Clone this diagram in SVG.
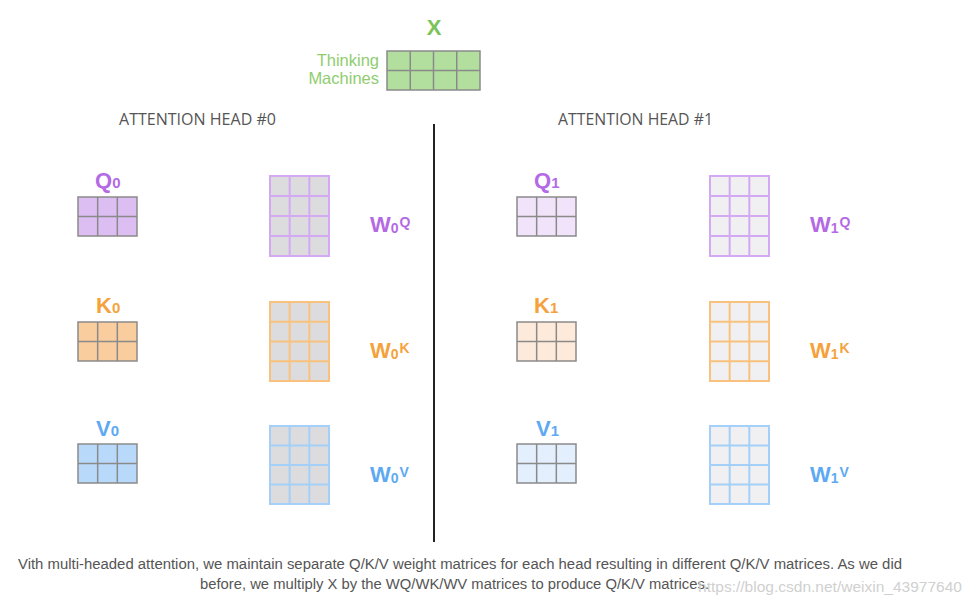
<svg xmlns="http://www.w3.org/2000/svg" xmlns:xlink="http://www.w3.org/1999/xlink" width="978" height="608" viewBox="0 0 978 608">
<style>
.lab{font-family:"Liberation Sans",Arial,sans-serif;font-weight:bold}
.hdr{font-family:"Open Sans","Liberation Sans",sans-serif;font-size:15.5px;fill:#555}
.sm{stroke:#8a8a8a;stroke-width:1.5}
.wq{stroke:#d4a9f4;stroke-width:2;fill:none}
.wk{stroke:#f8c27e;stroke-width:2;fill:none}
.wv{stroke:#a3cff8;stroke-width:2;fill:none}
.cap{font-family:"Liberation Sans",Arial,sans-serif;font-size:14px;fill:#555}
</style>
<defs>
<path id="g32" d="M19.67 0V39M39.33 0V39M0 19.5H59" fill="none"/>
<path id="g34" d="M19.67 0V80M39.33 0V80M0 20H59M0 40H59M0 60H59" fill="none"/>
<path id="g42" d="M23.25 0V39M46.5 0V39M69.75 0V39M0 19.5H93" fill="none"/>
</defs>
<rect width="978" height="608" fill="#fff"/>

<g id="X">
<text x="434" y="35" text-anchor="middle" class="lab" font-size="22" fill="#7cc35a">X</text>
<text x="379" y="66" text-anchor="end" font-family="Liberation Sans,Arial,sans-serif" font-size="16.5" fill="#8fcd6f">Thinking</text>
<text x="379" y="84" text-anchor="end" font-family="Liberation Sans,Arial,sans-serif" font-size="16.5" fill="#8fcd6f">Machines</text>
<g transform="translate(387,51)"><rect width="93" height="39" fill="#b2df9d" class="sm"/><use xlink:href="#g42" class="sm"/></g>
</g>

<g id="headers">
<text x="119" y="125" class="hdr" textLength="157" lengthAdjust="spacingAndGlyphs">ATTENTION HEAD #0</text>
<text x="558" y="125" class="hdr" textLength="155" lengthAdjust="spacingAndGlyphs">ATTENTION HEAD #1</text>
</g>

<g id="connectors">
<line x1="434" y1="124" x2="434" y2="542" stroke="#222" stroke-width="2"/>
</g>

<!-- Head 0 -->
<g id="Q0">
<text x="95" y="188" class="lab" font-size="22" fill="#b46ae4">Q<tspan font-size="15">0</tspan></text>
<g transform="translate(78,197)"><rect width="59" height="39" fill="#ddbef2" class="sm"/><use xlink:href="#g32" class="sm"/></g>
</g>
<g id="W0Q">
<g transform="translate(270,176)"><rect width="59" height="80" fill="#dcdcde"/><rect width="59" height="80" class="wq"/><use xlink:href="#g34" class="wq"/></g>
<text x="370" y="232" class="lab" font-size="22" fill="#b46ae4">W<tspan font-size="14" dy="1">0</tspan><tspan font-size="14" dx="1" dy="-6">Q</tspan></text>
</g>
<g id="K0">
<text x="96" y="313" class="lab" font-size="22" fill="#f5a23c">K<tspan font-size="15">0</tspan></text>
<g transform="translate(78,322)"><rect width="59" height="39" fill="#f9cd9e" class="sm"/><use xlink:href="#g32" class="sm"/></g>
</g>
<g id="W0K">
<g transform="translate(270,302)"><rect width="59" height="79" fill="#dcdcde"/><rect width="59" height="79" class="wk"/><use xlink:href="#g34" class="wk" transform="scale(1,0.9875)"/></g>
<text x="370" y="358" class="lab" font-size="22" fill="#f5a23c">W<tspan font-size="14" dy="1">0</tspan><tspan font-size="14" dx="1" dy="-6">K</tspan></text>
</g>
<g id="V0">
<text x="96" y="436" class="lab" font-size="22" fill="#5eaaf2">V<tspan font-size="15">0</tspan></text>
<g transform="translate(78,444)"><rect width="59" height="39" fill="#b9d9fb" class="sm"/><use xlink:href="#g32" class="sm"/></g>
</g>
<g id="W0V">
<g transform="translate(270,426)"><rect width="59" height="78" fill="#dcdcde"/><rect width="59" height="78" class="wv"/><use xlink:href="#g34" class="wv" transform="scale(1,0.975)"/></g>
<text x="370" y="482" class="lab" font-size="22" fill="#5eaaf2">W<tspan font-size="14" dy="1">0</tspan><tspan font-size="14" dx="1" dy="-6">V</tspan></text>
</g>

<!-- Head 1 -->
<g id="Q1">
<text x="534" y="188" class="lab" font-size="22" fill="#b46ae4">Q<tspan font-size="15">1</tspan></text>
<g transform="translate(517,197)"><rect width="59" height="39" fill="#f1e3f9" class="sm"/><use xlink:href="#g32" class="sm"/></g>
</g>
<g id="W1Q">
<g transform="translate(710,176)"><rect width="59" height="80" fill="#f0f0f2"/><rect width="59" height="80" class="wq"/><use xlink:href="#g34" class="wq"/></g>
<text x="810" y="232" class="lab" font-size="22" fill="#b46ae4">W<tspan font-size="14" dy="1">1</tspan><tspan font-size="14" dx="1" dy="-6">Q</tspan></text>
</g>
<g id="K1">
<text x="534" y="313" class="lab" font-size="22" fill="#f5a23c">K<tspan font-size="15">1</tspan></text>
<g transform="translate(517,322)"><rect width="59" height="39" fill="#fdeada" class="sm"/><use xlink:href="#g32" class="sm"/></g>
</g>
<g id="W1K">
<g transform="translate(710,302)"><rect width="59" height="79" fill="#f0f0f2"/><rect width="59" height="79" class="wk"/><use xlink:href="#g34" class="wk" transform="scale(1,0.9875)"/></g>
<text x="810" y="358" class="lab" font-size="22" fill="#f5a23c">W<tspan font-size="14" dy="1">1</tspan><tspan font-size="14" dx="1" dy="-6">K</tspan></text>
</g>
<g id="V1">
<text x="536" y="436" class="lab" font-size="22" fill="#5eaaf2">V<tspan font-size="15">1</tspan></text>
<g transform="translate(517,444)"><rect width="59" height="39" fill="#e3effc" class="sm"/><use xlink:href="#g32" class="sm"/></g>
</g>
<g id="W1V">
<g transform="translate(710,426)"><rect width="59" height="78" fill="#f0f0f2"/><rect width="59" height="78" class="wv"/><use xlink:href="#g34" class="wv" transform="scale(1,0.975)"/></g>
<text x="810" y="482" class="lab" font-size="22" fill="#5eaaf2">W<tspan font-size="14" dy="1">1</tspan><tspan font-size="14" dx="1" dy="-6">V</tspan></text>
</g>

<g id="caption">
<text x="18" y="569" class="cap" textLength="884" lengthAdjust="spacingAndGlyphs">Vith multi-headed attention, we maintain separate Q/K/V weight matrices for each head resulting in different Q/K/V matrices. As we did</text>
<text x="200" y="589" class="cap" textLength="509" lengthAdjust="spacingAndGlyphs">before, we multiply X by the WQ/WK/WV matrices to produce Q/K/V matrices.</text>
<text x="698" y="592" font-family="Liberation Sans,Arial,sans-serif" font-size="14" fill="#d0d0d0" textLength="264" lengthAdjust="spacingAndGlyphs">https://blog.csdn.net/weixin_43977640</text>
</g>
</svg>
